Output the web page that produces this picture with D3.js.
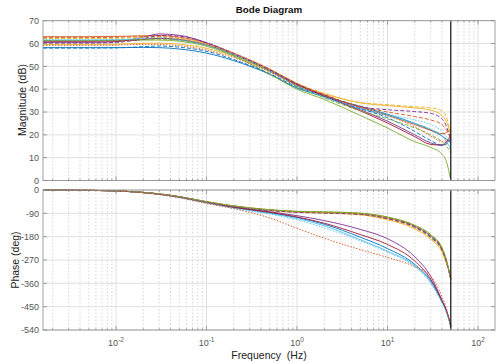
<!DOCTYPE html>
<html>
<head>
<meta charset="utf-8">
<script src="https://cdn.jsdelivr.net/npm/d3@7"></script>
<style>
  body { margin: 0; background: #fff; }
  svg text { font-family: "Liberation Sans", Arial, sans-serif; }
</style>
</head>
<body>
<svg id="chart" width="499" height="363"></svg>
<script>
// frequency points (Hz) shared by every response
const freqHz = [0.00156, 0.005, 0.01, 0.02, 0.03, 0.05, 0.1, 0.2, 0.5, 1, 2, 5, 10, 20, 30, 40, 45, 50];

// magnitude (dB), one array per response
const mag01 = [58.2, 58.2, 58.2, 58.3, 58.2, 57.6, 55.8, 52.5, 46.5, 40.5, 36.8, 32.5, 29, 25, 22, 19.5, 18, 16.5];
const mag02 = [63.0, 63.0, 63.1, 63.4, 63.5, 62.8, 60.2, 55.8, 48.8, 42.5, 37.5, 32, 28.5, 24.5, 22, 20.5, 21, 22.5];
const mag03 = [59.6, 59.6, 59.7, 60.1, 60.2, 59.7, 57.9, 54.4, 47.8, 42, 38, 34, 32.8, 31.8, 30.8, 28.5, 25.5, 20];
const mag04 = [60.5, 60.5, 60.8, 62.8, 64.2, 63.6, 60.3, 55.2, 48.2, 42, 37, 31, 26, 20, 16.5, 15.5, 16.5, 18.5];
const mag05 = [61.2, 61.2, 61.3, 61.5, 61.5, 61.0, 58.8, 54.5, 46.5, 40, 35.5, 28.5, 23, 17, 14.5, 11.5, 8, 0];
const mag06 = [61.5, 61.5, 61.6, 62.0, 62.2, 61.5, 59.2, 55, 48, 41.5, 36.5, 31.5, 28.5, 25, 22.5, 19.5, 17, 13.5];
const mag07 = [61.0, 61.0, 61.1, 61.8, 62.3, 61.8, 59.5, 55.2, 48.2, 42, 37, 30.5, 25.2, 19.2, 15.8, 15.5, 17, 19.5];
const mag08 = [58.0, 58.0, 58.1, 58.6, 58.9, 58.4, 56.6, 53, 46.8, 41, 36.8, 31.5, 27.5, 21.5, 17.5, 15.5, 16, 18];
const mag09 = [62.6, 62.6, 62.7, 63.0, 63.0, 62.2, 59.6, 55.3, 48.4, 42.3, 37.5, 32.5, 30, 28, 26.5, 24.5, 22, 19];
const mag10 = [62.2, 62.2, 62.3, 62.6, 62.8, 62.2, 59.8, 55.5, 48.6, 42.5, 38.2, 34.2, 33.2, 32.3, 31.8, 30.5, 27.5, 19.5];
const mag11 = [60.2, 60.2, 60.5, 62.0, 63.5, 63.2, 60.4, 55.6, 48.6, 42.3, 37.5, 32.3, 31, 30.2, 29.4, 27, 23.5, 17.5];
const mag12 = [61.3, 61.3, 61.4, 61.8, 61.9, 61.4, 59.2, 55, 47.8, 41.2, 36.2, 30.5, 27, 23, 20, 17, 15, 12];
const mag13 = [61.6, 61.6, 61.7, 62.2, 62.5, 61.8, 59.4, 55.2, 48, 41.5, 36.5, 31.8, 29, 26.5, 24.5, 21.5, 19, 16];
const mag14 = [59.2, 59.2, 59.3, 59.6, 59.6, 59.0, 57.2, 53.8, 47.5, 41.6, 37.2, 32, 28.5, 23.5, 19.5, 17, 17.5, 20.5];

// phase (deg), one array per response
const ph01 = [-0.5, -1.5, -3.5, -10, -16, -28, -48, -67, -88, -106, -132, -182, -226, -287, -350, -430, -470, -525];
const ph02 = [-0.5, -1.5, -3.5, -9.5, -15, -26, -45, -62, -77, -83, -86, -92, -108, -140, -178, -228, -278, -342];
const ph03 = [-0.5, -1.5, -3.5, -9.5, -15, -26, -46, -64, -80, -86, -89, -96, -115, -150, -190, -240, -285, -338];
const ph04 = [-0.5, -1.5, -3.5, -10, -16, -27, -47, -65, -84, -99, -118, -152, -188, -258, -333, -425, -465, -522];
const ph05 = [-0.5, -1.5, -3.5, -9.5, -15, -26, -45, -61, -76, -82, -84, -89, -104, -136, -172, -222, -272, -345];
const ph06 = [-0.5, -1.5, -3.5, -10, -16, -28, -49, -69, -90, -110, -138, -192, -236, -292, -356, -433, -472, -527];
const ph07 = [-0.5, -1.5, -3.5, -10, -16, -27, -48, -67, -86, -104, -128, -172, -210, -274, -344, -428, -468, -525];
const ph08 = [-0.5, -1.5, -3.5, -9.5, -15, -26, -46, -63, -78, -85, -88, -93, -110, -142, -180, -230, -280, -343];
const ph09 = [-0.5, -1.5, -3.5, -9.5, -15, -26, -45, -62, -77, -84, -87, -91, -106, -138, -175, -226, -276, -344];
const ph10 = [-0.5, -1.5, -3.5, -9.5, -15, -26, -45, -62, -77, -84, -87, -94, -112, -146, -186, -236, -283, -340];
const ph11 = [-0.5, -1.5, -3.5, -9.5, -15, -26, -46, -63, -79, -86, -89, -94, -111, -144, -183, -233, -281, -342];
const ph12 = [-0.5, -1.5, -3.5, -9.5, -15, -26, -45, -62, -76, -83, -85, -90, -105, -137, -174, -224, -274, -346];
const ph13 = [-0.5, -1.5, -3.5, -10.5, -17, -29, -50, -71, -93, -115, -146, -196, -240, -296, -360, -436, -475, -530];
const ph14 = [-0.5, -1.5, -3.5, -11, -18, -30, -52, -72, -108, -148, -186, -230, -260, -296, -332, -412, -460, -530];

const magSeries = [mag01, mag02, mag03, mag04, mag05, mag06, mag07, mag08, mag09, mag10, mag11, mag12, mag13, mag14];
const phaseSeries = [ph01, ph02, ph03, ph04, ph05, ph06, ph07, ph08, ph09, ph10, ph11, ph12, ph13, ph14];

const seriesColors = ["#0072BD", "#D95319", "#EDB120", "#7E2F8E", "#77AC30", "#4DBEEE", "#A2142F",
                      "#0072BD", "#D95319", "#EDB120", "#7E2F8E", "#77AC30", "#4DBEEE", "#D95319"];
const seriesDash = [null, null, null, null, null, null, null,
                    "4,2", "4,2", "4,2", "4,2", "4,2", "1.5,1.5", "1.5,1.5"];

const magTicks = [0, 10, 20, 30, 40, 50, 60, 70];
const phaseTicks = [0, -90, -180, -270, -360, -450, -540];
const decadeTicks = [0.01, 0.1, 1, 10, 100];
const decadeExp = ["-2", "-1", "0", "1", "2"];
const freqDomain = [0.00156, 154];
const nyquistHz = 50;

const svg = d3.select("#chart");
const left = 43, right = 495;

const x = d3.scaleLog().domain(freqDomain).range([left, right]);
const yMag = d3.scaleLinear().domain([0, 70]).range([180.5, 20.7]);
const yPh = d3.scaleLinear().domain([-540, 0]).range([330, 190]);

const isDecade = (t) => Math.abs(Math.log10(t) - Math.round(Math.log10(t))) < 1e-6;
const minorTicks = x.ticks().filter((t) => !isDecade(t));

function drawPanel(y, yTicks, series) {
  const g = svg.append("g");
  const [yb, yt] = y.range();

  // minor vertical grid (dotted)
  minorTicks.forEach((t) => {
    g.append("line")
      .attr("x1", x(t)).attr("x2", x(t))
      .attr("y1", yt).attr("y2", yb)
      .attr("stroke", "#c4c4c4")
      .attr("stroke-width", 0.7)
      .attr("stroke-dasharray", "1.5,2");
  });

  // major grid
  decadeTicks.forEach((t) => {
    g.append("line")
      .attr("x1", x(t)).attr("x2", x(t))
      .attr("y1", yt).attr("y2", yb)
      .attr("stroke", "#dcdcdc")
      .attr("stroke-width", 0.9);
  });
  yTicks.forEach((t) => {
    g.append("line")
      .attr("x1", left).attr("x2", right)
      .attr("y1", y(t)).attr("y2", y(t))
      .attr("stroke", "#dcdcdc")
      .attr("stroke-width", 0.9);
  });

  // responses
  const line = d3.line()
    .x((d, i) => x(freqHz[i]))
    .y((d) => y(d))
    .curve(d3.curveMonotoneX);

  series.forEach((vals, k) => {
    g.append("path")
      .datum(vals)
      .attr("d", line)
      .attr("fill", "none")
      .attr("stroke", seriesColors[k])
      .attr("stroke-width", 0.9)
      .attr("stroke-dasharray", seriesDash[k]);
  });

  // Nyquist frequency marker
  g.append("line")
    .attr("x1", x(nyquistHz)).attr("x2", x(nyquistHz))
    .attr("y1", yt).attr("y2", yb)
    .attr("stroke", "#111")
    .attr("stroke-width", 1.2);

  // box
  g.append("rect")
    .attr("x", left).attr("y", yt)
    .attr("width", right - left).attr("height", yb - yt)
    .attr("fill", "none")
    .attr("stroke", "#8a8a8a")
    .attr("stroke-width", 0.8);

  // ticks (inward, on both sides)
  yTicks.forEach((t) => {
    g.append("line").attr("x1", left).attr("x2", left + 4)
      .attr("y1", y(t)).attr("y2", y(t)).attr("stroke", "#8a8a8a").attr("stroke-width", 0.8);
    g.append("line").attr("x1", right - 4).attr("x2", right)
      .attr("y1", y(t)).attr("y2", y(t)).attr("stroke", "#8a8a8a").attr("stroke-width", 0.8);
    g.append("text")
      .attr("x", left - 4)
      .attr("y", y(t) + 3.2)
      .attr("text-anchor", "end")
      .attr("font-size", "9px")
      .attr("fill", "#555")
      .text(t);
  });
  decadeTicks.forEach((t) => {
    g.append("line").attr("x1", x(t)).attr("x2", x(t))
      .attr("y1", yb).attr("y2", yb - 4).attr("stroke", "#8a8a8a").attr("stroke-width", 0.8);
    g.append("line").attr("x1", x(t)).attr("x2", x(t))
      .attr("y1", yt).attr("y2", yt + 4).attr("stroke", "#8a8a8a").attr("stroke-width", 0.8);
  });
  minorTicks.forEach((t) => {
    g.append("line").attr("x1", x(t)).attr("x2", x(t))
      .attr("y1", yb).attr("y2", yb - 2).attr("stroke", "#8a8a8a").attr("stroke-width", 0.7);
    g.append("line").attr("x1", x(t)).attr("x2", x(t))
      .attr("y1", yt).attr("y2", yt + 2).attr("stroke", "#8a8a8a").attr("stroke-width", 0.7);
  });
}

drawPanel(yMag, magTicks, magSeries);
drawPanel(yPh, phaseTicks, phaseSeries);

// x tick labels, bottom axes only
decadeTicks.forEach((t, i) => {
  const txt = svg.append("text")
    .attr("x", x(t))
    .attr("y", 346)
    .attr("text-anchor", "middle")
    .attr("font-size", "9px")
    .attr("fill", "#555");
  txt.append("tspan").text("10");
  txt.append("tspan").attr("dy", -4).attr("font-size", "6.5px").text(decadeExp[i]);
});

// titles
svg.append("text")
  .attr("x", (left + right) / 2).attr("y", 13)
  .attr("text-anchor", "middle")
  .attr("font-size", "9.8px")
  .attr("font-weight", "bold")
  .attr("fill", "#111")
  .text("Bode Diagram");

svg.append("text")
  .attr("x", (left + right) / 2).attr("y", 358.5)
  .attr("text-anchor", "middle")
  .attr("font-size", "10.5px")
  .attr("fill", "#222")
  .style("white-space", "pre")
  .text("Frequency  (Hz)");

svg.append("text")
  .attr("transform", "translate(26,100) rotate(-90)")
  .attr("text-anchor", "middle")
  .attr("font-size", "10.5px")
  .attr("fill", "#222")
  .text("Magnitude (dB)");

svg.append("text")
  .attr("transform", "translate(19,260) rotate(-90)")
  .attr("text-anchor", "middle")
  .attr("font-size", "10.5px")
  .attr("fill", "#222")
  .text("Phase (deg)");
</script>
</body>
</html>
